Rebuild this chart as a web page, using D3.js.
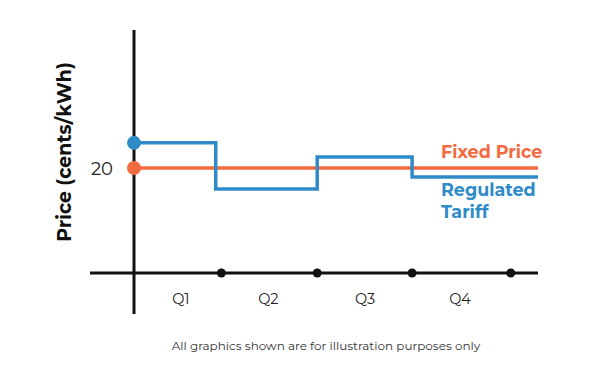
<!DOCTYPE html>
<html><head><meta charset="utf-8">
<script src="https://cdn.jsdelivr.net/npm/d3@7"></script>
<style>body{margin:0;background:#fff}svg{display:block}text{font-family:"Montserrat","Lato","Open Sans",sans-serif}</style>
</head><body>
<svg id="c" width="600" height="384"></svg>
<script>
// Data
const quarters = ["Q1", "Q2", "Q3", "Q4"];
const quarterLabelPos = [0.5, 1.43, 2.46, 3.47];
const quarterEnds = [0.93, 1.95, 2.96, 4.01];
const tariffStepStarts = [0, 0.87, 1.95, 2.96];
const tariffValues = [24.8, 16, 22.1, 18.3];
const fixedPrice = 20;
const xEnd = 4.3;
const yTicks = [20];

const svg = d3.select("#c");
const orange = "#F26A41", blue = "#2F8BC7";
const x = d3.scaleLinear().domain([0, xEnd]).range([134, 538]);
const y = d3.scaleLinear().domain([0, 46.3]).range([273, 30]);

// axes
svg.append("line").attr("x1", x(0)).attr("x2", x(0)).attr("y1", 30).attr("y2", 314)
  .attr("stroke", "#111").attr("stroke-width", 3);
svg.append("line").attr("x1", 90).attr("x2", x(xEnd)).attr("y1", y(0)).attr("y2", y(0))
  .attr("stroke", "#111").attr("stroke-width", 3);

// fixed price line
svg.append("line").attr("x1", x(0)).attr("x2", x(xEnd)).attr("y1", y(fixedPrice)).attr("y2", y(fixedPrice))
  .attr("stroke", orange).attr("stroke-width", 3.5);

// tariff step line
const pts = tariffStepStarts.map((s, i) => [s, tariffValues[i]]);
pts.push([xEnd, tariffValues[tariffValues.length - 1]]);
const line = d3.line().x(d => x(d[0])).y(d => y(d[1])).curve(d3.curveStepAfter);
svg.append("path").attr("d", line(pts)).attr("fill", "none")
  .attr("stroke", blue).attr("stroke-width", 3.5);

// start dots
svg.append("circle").attr("cx", x(0)).attr("cy", y(tariffValues[0])).attr("r", 7).attr("fill", blue);
svg.append("circle").attr("cx", x(0)).attr("cy", y(fixedPrice)).attr("r", 7).attr("fill", orange);

// quarter end dots
svg.selectAll(".qd").data(quarterEnds).enter().append("circle")
  .attr("cx", d => x(d)).attr("cy", y(0)).attr("r", 4.5).attr("fill", "#111");

// quarter labels
svg.selectAll(".ql").data(quarters).enter().append("text")
  .attr("x", (d, i) => x(quarterLabelPos[i])).attr("y", 304)
  .attr("text-anchor", "middle").attr("font-size", 14.5).attr("fill", "#222").text(d => d);

// y tick
svg.selectAll(".yt").data(yTicks).enter().append("text")
  .attr("x", 113).attr("y", d => y(d) + 6.5).attr("text-anchor", "end")
  .attr("font-size", 18).attr("fill", "#222").text(d => d);

// y label
svg.append("text").attr("transform", "translate(71,152) rotate(-90)")
  .attr("text-anchor", "middle").attr("font-size", 19).attr("font-weight", "bold")
  .attr("fill", "#111").text("Price (cents/kWh)");

// series labels
svg.append("text").attr("x", 441).attr("y", 158).attr("font-size", 17.5).attr("font-weight", "bold")
  .attr("fill", orange).text("Fixed Price");
svg.append("text").attr("x", 441).attr("y", 196).attr("font-size", 17.5).attr("font-weight", "bold")
  .attr("fill", blue).text("Regulated");
svg.append("text").attr("x", 441).attr("y", 218).attr("font-size", 17.5).attr("font-weight", "bold")
  .attr("fill", blue).text("Tariff");

// footnote
svg.append("text").attr("x", 326).attr("y", 350).attr("text-anchor", "middle")
  .attr("font-size", 12).attr("fill", "#333").text("All graphics shown are for illustration purposes only");
</script>
</body></html>
